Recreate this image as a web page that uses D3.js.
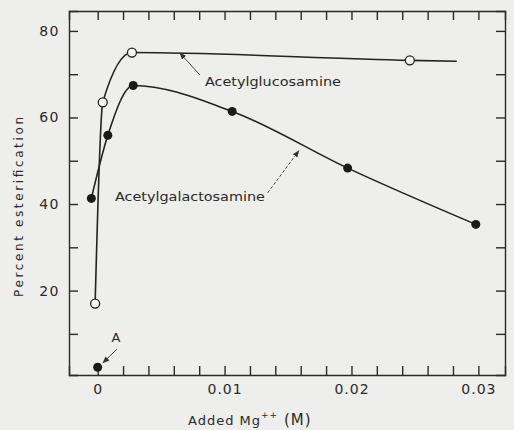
<!DOCTYPE html>
<html>
<head>
    <meta charset="UTF-8">
    <title>Percent esterification vs added Mg++</title>
    <style>
        body {
            margin: 0;
            background-color: #eeeeec;
        }
        svg {
            display: block;
        }
        text {
            font-family: "DejaVu Sans", Arial, sans-serif;
            fill: #2a2a2a;
        }
        .axis path, .axis line {
            stroke: #2a2a2a;
            stroke-width: 1.4px;
        }
        .curve {
            fill: none;
            stroke: #222;
            stroke-width: 1.6px;
        }
        .note-arrow {
            stroke: #333;
            stroke-width: 0.9px;
            fill: none;
        }
    </style>
</head>
<body>
    <svg id="chart" width="514" height="430"></svg>

    <script src="https://d3js.org/d3.v7.min.js"></script>
    <script>
        // Values
        var glucoseX = [-0.0002, 0.0004, 0.0027, 0.0246];
        var glucoseY = [17, 63.5, 75, 73.2];
        var glucoseLineEnd = [0.0283, 73.0];   // line runs past the last point

        var galactoseX = [-0.0005, 0.0008, 0.0028, 0.0106, 0.0197, 0.0298];
        var galactoseY = [41.3, 55.9, 67.4, 61.4, 48.3, 35.3];

        var pointA = [0, 2.3];

        var xTicks = d3.range(0, 0.0301, 0.002);
        var xTickLabels = { "0": "0", "0.01": "0.01", "0.02": "0.02", "0.03": "0.03" };
        var yTicks = [10, 20, 30, 40, 50, 60, 70, 80];
        var yTickLabels = [20, 40, 60, 80];

        var width = 514, height = 430;
        var margin = { top: 11, right: 9, bottom: 55, left: 69 };

        var svg = d3.select("#chart");

        var x = d3.scaleLinear()
            .domain([-0.00226, 0.0321])
            .range([margin.left, width - margin.right]);

        var y = d3.scaleLinear()
            .domain([0.5, 84.6])
            .range([height - margin.bottom, margin.top]);

        // arrow head marker
        svg.append("defs").append("marker")
            .attr("id", "head")
            .attr("viewBox", "0 0 10 10")
            .attr("refX", 9)
            .attr("refY", 5)
            .attr("markerWidth", 7)
            .attr("markerHeight", 7)
            .attr("markerUnits", "userSpaceOnUse")
            .attr("orient", "auto")
            .append("path")
            .attr("d", "M0,1 L10,5 L0,9 Z")
            .attr("fill", "#333");

        // axes, ticks pointing inward on all four sides
        svg.append("g")
            .attr("class", "axis")
            .attr("transform", "translate(0," + (height - margin.bottom) + ")")
            .call(d3.axisBottom(x).tickValues(xTicks).tickSize(-9).tickPadding(9)
                .tickFormat(function(d) {
                    var k = String(+d.toFixed(3));
                    return xTickLabels[k] || "";
                }))
            .call(function(g) { g.selectAll("text").attr("font-size", 14).attr("letter-spacing", 1); });

        svg.append("g")
            .attr("class", "axis")
            .attr("transform", "translate(0," + margin.top + ")")
            .call(d3.axisTop(x).tickValues(xTicks).tickSize(-9).tickFormat(""));

        svg.append("g")
            .attr("class", "axis")
            .attr("transform", "translate(" + margin.left + ",0)")
            .call(d3.axisLeft(y).tickValues(yTicks).tickSize(-9).tickPadding(9)
                .tickFormat(function(d) { return yTickLabels.indexOf(d) >= 0 ? d : ""; }))
            .call(function(g) { g.selectAll("text").attr("font-size", 14).attr("letter-spacing", 1.5); });

        svg.append("g")
            .attr("class", "axis")
            .attr("transform", "translate(" + (width - margin.right) + ",0)")
            .call(d3.axisRight(y).tickValues(yTicks).tickSize(-9).tickFormat(""));

        // curves
        var line = d3.line()
            .x(function(d) { return x(d[0]); })
            .y(function(d) { return y(d[1]); })
            .curve(d3.curveMonotoneX);

        var glucose = glucoseX.map(function(v, i) { return [v, glucoseY[i]]; });
        var galactose = galactoseX.map(function(v, i) { return [v, galactoseY[i]]; });

        svg.append("path")
            .attr("class", "curve")
            .attr("d", line(glucose.concat([glucoseLineEnd])));

        svg.append("path")
            .attr("class", "curve")
            .attr("d", line(galactose));

        // points
        svg.append("g").selectAll("circle")
            .data(galactose.concat([pointA]))
            .enter().append("circle")
            .attr("cx", function(d) { return x(d[0]); })
            .attr("cy", function(d) { return y(d[1]); })
            .attr("r", 4.5)
            .attr("fill", "#1a1a1a");

        svg.append("g").selectAll("circle")
            .data(glucose)
            .enter().append("circle")
            .attr("cx", function(d) { return x(d[0]); })
            .attr("cy", function(d) { return y(d[1]); })
            .attr("r", 4.5)
            .attr("fill", "#f6f6f4")
            .attr("stroke", "#222")
            .attr("stroke-width", 1.3);

        // annotations (placed in data units)
        svg.append("text")
            .attr("x", x(0.00845)).attr("y", y(67.3))
            .attr("font-size", 13)
            .attr("textLength", 136).attr("lengthAdjust", "spacingAndGlyphs")
            .text("Acetylglucosamine");

        svg.append("line")
            .attr("class", "note-arrow")
            .attr("x1", x(0.00806)).attr("y1", y(69.8))
            .attr("x2", x(0.00648)).attr("y2", y(74.9))
            .attr("marker-end", "url(#head)");

        svg.append("text")
            .attr("x", x(0.00136)).attr("y", y(40.8))
            .attr("font-size", 13)
            .attr("textLength", 150).attr("lengthAdjust", "spacingAndGlyphs")
            .text("Acetylgalactosamine");

        svg.append("line")
            .attr("class", "note-arrow")
            .attr("stroke-dasharray", "3,2")
            .attr("x1", x(0.0134)).attr("y1", y(42.6))
            .attr("x2", x(0.01585)).attr("y2", y(52.3))
            .attr("marker-end", "url(#head)");

        svg.append("text")
            .attr("x", x(0.00144)).attr("y", y(8.2))
            .attr("text-anchor", "middle")
            .attr("font-size", 13)
            .text("A");

        svg.append("line")
            .attr("class", "note-arrow")
            .attr("x1", x(0.00152)).attr("y1", y(6.5))
            .attr("x2", x(0.00042)).attr("y2", y(3.3))
            .attr("marker-end", "url(#head)");

        // axis titles
        svg.append("text")
            .attr("transform", "translate(23,207) rotate(-90)")
            .attr("text-anchor", "middle")
            .attr("font-size", 12)
            .attr("textLength", 180).attr("lengthAdjust", "spacing")
            .text("Percent  esterification");

        var xTitle = svg.append("text")
            .attr("x", 188).attr("y", 425)
            .attr("font-size", 13)
            .attr("letter-spacing", 1);
        xTitle.append("tspan").text("Added  Mg");
        xTitle.append("tspan").attr("dy", -7).attr("font-size", 9).text("++");
        xTitle.append("tspan").attr("dy", 7).attr("font-size", 15).text(" (M)");
    </script>
</body>
</html>
